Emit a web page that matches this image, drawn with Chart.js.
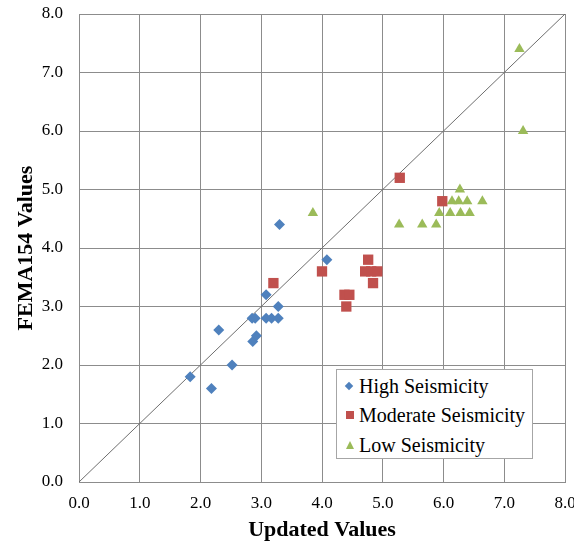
<!DOCTYPE html>
<html>
<head>
<meta charset="utf-8">
<script src="https://cdn.jsdelivr.net/npm/chart.js@4"></script>
<style>
	html, body { margin:0; padding:0; background:#fff; }
	#wrap { position:relative; width:574px; height:544px; }
	#legend {
		position:absolute; left:336px; top:369px; width:195px; height:88px;
		background:#fff; border:1px solid #a6a6a6;
		font-family:"Liberation Serif", "DejaVu Serif", serif; font-size:20px; color:#000;
	}
	.item { position:absolute; left:0; height:24px; line-height:24px; white-space:nowrap; }
	.item span { position:absolute; left:22px; top:0; }
	.mk { position:absolute; }
	.mk.diamond { left:9px; top:9px; width:6px; height:6px; transform:rotate(45deg); background:#4F81BD; }
	.mk.square { left:9px; top:8px; width:8px; height:8px; background:#C0504D; }
	.mk.tri { left:9px; top:8px; width:0; height:0; border-left:4px solid transparent; border-right:4px solid transparent; border-bottom:8px solid #9BBB59; }
</style>
</head>
<body>
<div id="wrap">
	<canvas id="chart" width="574" height="544"></canvas>
	<div id="legend"></div>
</div>
<script>
const highX = [1.83, 2.18, 2.30, 2.52, 2.86, 2.92, 2.85, 2.90, 3.08, 3.17, 3.28, 3.28, 3.08, 4.08, 3.30];
const highY = [1.8, 1.6, 2.6, 2.0, 2.4, 2.5, 2.8, 2.8, 2.8, 2.8, 2.8, 3.0, 3.2, 3.8, 4.4];

const modX = [3.20, 4.00, 4.40, 4.37, 4.45, 4.71, 4.81, 4.91, 4.84, 4.76, 5.28, 5.98];
const modY = [3.4, 3.6, 3.0, 3.2, 3.2, 3.6, 3.6, 3.6, 3.4, 3.8, 5.2, 4.8];

const lowX = [3.85, 5.27, 5.65, 5.88, 5.93, 6.11, 6.28, 6.43, 6.14, 6.25, 6.39, 6.64, 6.27, 7.25, 7.31];
const lowY = [4.6, 4.4, 4.4, 4.4, 4.6, 4.6, 4.6, 4.6, 4.8, 4.8, 4.8, 4.8, 5.0, 7.4, 6.0];

const lineX = [0, 8];
const lineY = [0, 8];

const seriesNames = ['High Seismicity', 'Moderate Seismicity', 'Low Seismicity'];
const tickValues = [0, 1, 2, 3, 4, 5, 6, 7, 8];

const serif = '"Liberation Serif", "DejaVu Serif", serif';
const gridColor = '#8c8c8c';

const toPoints = (xs, ys) => xs.map((x, i) => ({x, y: ys[i]}));

const datasets = [
	{
		label: 'y = x',
		data: toPoints(lineX, lineY),
		showLine: true,
		borderColor: '#6e6e6e',
		borderWidth: 1,
		pointRadius: 0,
		order: 4
	},
	{
		label: seriesNames[0],
		data: toPoints(highX, highY),
		pointStyle: 'rectRot',
		pointRadius: 5.5,
		backgroundColor: '#4F81BD',
		borderColor: '#4F81BD',
		borderWidth: 0,
		order: 3
	},
	{
		label: seriesNames[1],
		data: toPoints(modX, modY),
		pointStyle: 'rect',
		pointRadius: 7.3,
		backgroundColor: '#C0504D',
		borderColor: '#C0504D',
		borderWidth: 0,
		order: 2
	},
	{
		label: seriesNames[2],
		data: toPoints(lowX, lowY),
		pointStyle: 'triangle',
		pointRadius: 6,
		backgroundColor: '#9BBB59',
		borderColor: '#9BBB59',
		borderWidth: 0,
		order: 1
	}
];

const axisBase = {
	type: 'linear',
	min: 0,
	max: 8,
	afterBuildTicks: scale => { scale.ticks = tickValues.map(v => ({value: v})); },
	grid: { color: gridColor, lineWidth: 1, drawTicks: false },
	border: { color: gridColor, width: 1 },
};

new Chart(document.getElementById('chart'), {
	type: 'scatter',
	data: { datasets },
	options: {
		responsive: false,
		animation: false,
		events: [],
		layout: { padding: { top: 14, right: 9, left: 0, bottom: 0 } },
		plugins: { legend: { display: false }, tooltip: { enabled: false } },
		scales: {
			x: {
				...axisBase,
				afterFit: scale => {
					scale.height = 62;
					scale.paddingLeft = 0;
					scale.paddingRight = 0;
				},
				ticks: {
					padding: 11,
					color: '#000',
					font: { family: serif, size: 17 },
					maxRotation: 0,
					callback: v => v.toFixed(1)
				},
				title: {
					display: true,
					text: 'Updated Values',
					color: '#000',
					font: { family: serif, size: 22, weight: 'bold' },
					padding: { top: 0, bottom: 0 }
				}
			},
			y: {
				...axisBase,
				afterFit: scale => {
					scale.width = 79;
					scale.paddingTop = 0;
					scale.paddingBottom = 0;
				},
				ticks: {
					padding: 16,
					color: '#000',
					font: { family: serif, size: 17 },
					callback: v => v.toFixed(1)
				},
				title: {
					display: true,
					text: 'FEMA154 Values',
					color: '#000',
					font: { family: serif, size: 22, weight: 'bold' },
					padding: { top: 13, bottom: 0 }
				}
			}
		}
	}
});

// legend box drawn as html, laid over the plot area
const legend = document.getElementById('legend');
const markers = ['diamond', 'square', 'tri'];
const rowTops = [4, 33, 63];
seriesNames.forEach((name, i) => {
	const row = document.createElement('div');
	row.className = 'item';
	row.style.top = rowTops[i] + 'px';
	const mk = document.createElement('div');
	mk.className = 'mk ' + markers[i];
	const txt = document.createElement('span');
	txt.textContent = name;
	row.appendChild(mk);
	row.appendChild(txt);
	legend.appendChild(row);
});
</script>
</body>
</html>
